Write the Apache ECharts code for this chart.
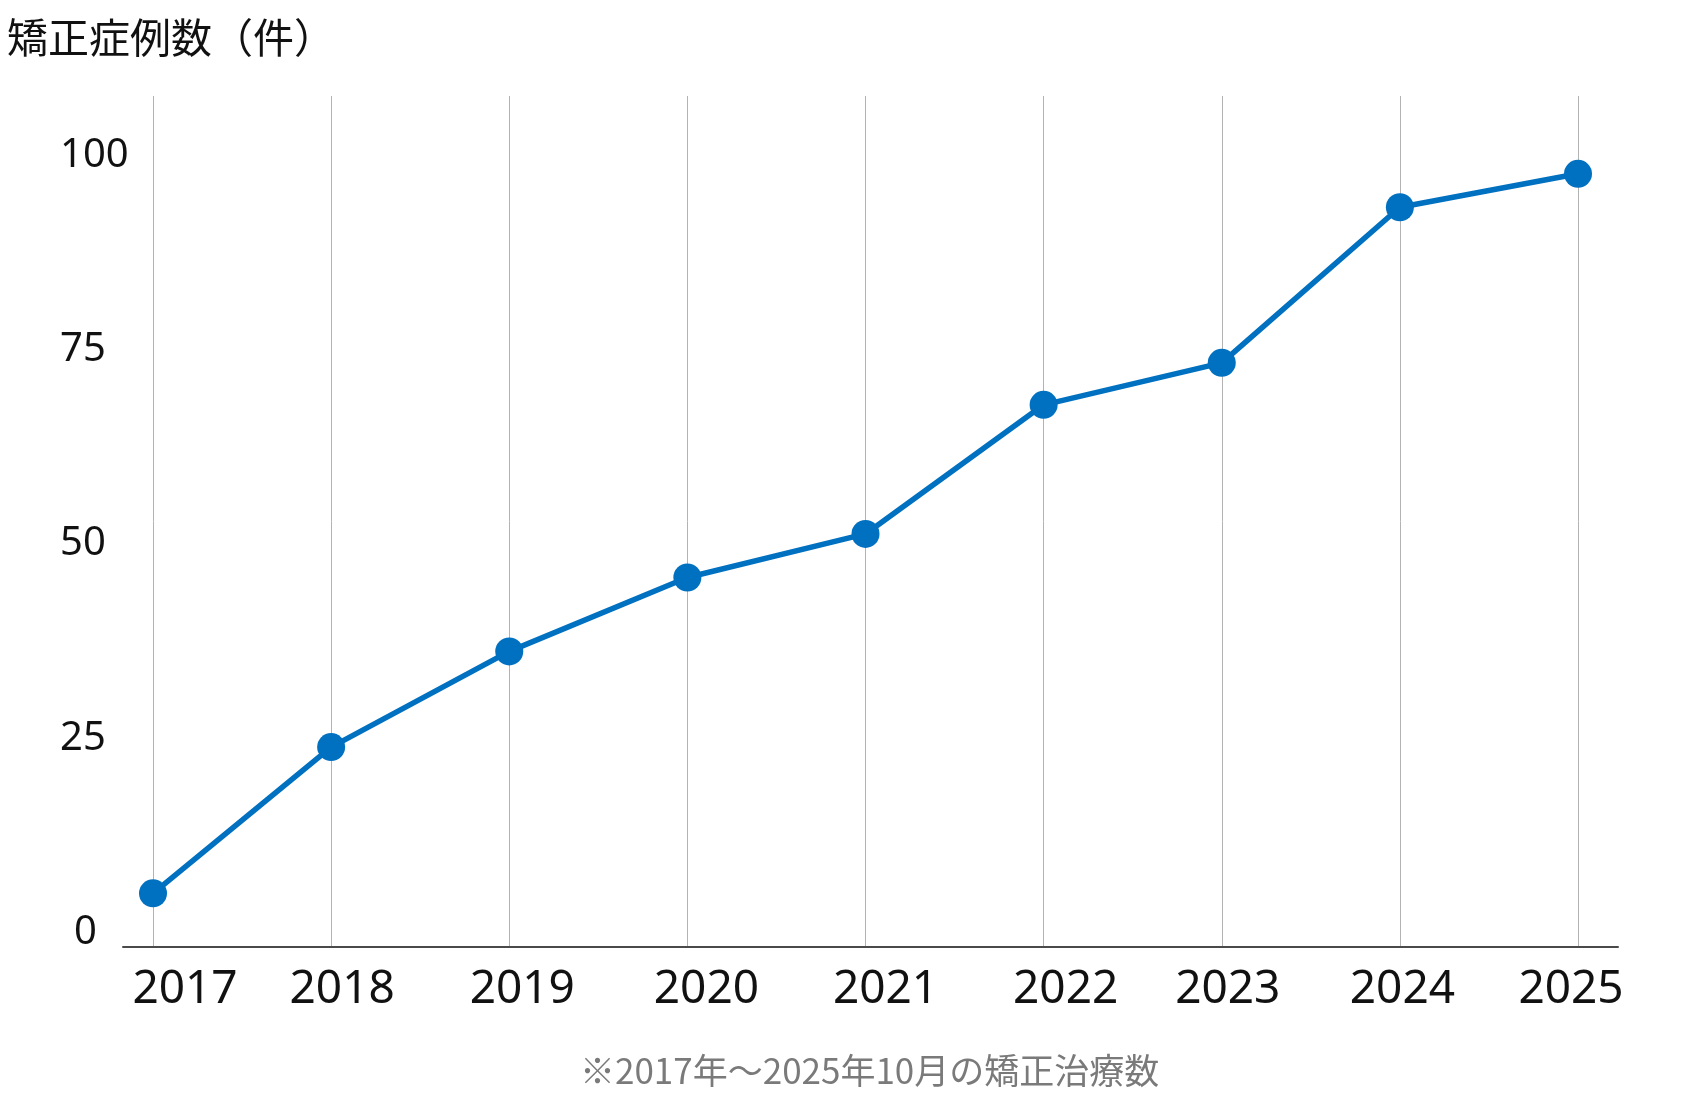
<!DOCTYPE html>
<html>
<head>
<meta charset="utf-8">
<script src="https://cdn.jsdelivr.net/npm/echarts@6/dist/echarts.min.js"></script>
<style>
html,body{margin:0;padding:0;background:#fff;}
#chart{width:1704px;height:1101px;}
</style>
</head>
<body>
<div id="chart"></div>
<script>
// ---- data ----
const years = ['2017','2018','2019','2020','2021','2022','2023','2024','2025'];
const cases = [5.1, 23.9, 36.2, 45.7, 51.3, 67.9, 73.3, 93.3, 97.6];
const yTicks = [0, 25, 50, 75, 100];
const titleText = '矯正症例数（件）';
const noteText = '※2017年～2025年10月の矯正治療数';

// ---- styles ----
const numFont = '"Noto Sans", "Noto Sans CJK JP", sans-serif';
const jpFont = '"Noto Sans CJK JP", "Noto Sans", sans-serif';
const labelPad = [[0,0,0,64],[0,0,0,22],[0,0,0,26],[0,0,0,38],[0,0,0,40],[0,0,0,44],[0,0,0,12],[0,0,0,5],[0,14,0,0]];
const rich = {};
labelPad.forEach((p, i) => { rich['s' + i] = { padding: p, fontSize: 46, fontFamily: numFont, color: '#111' }; });
const yRich = {
  n: { fontSize: 40, fontFamily: numFont, color: '#111' },
  z: { fontSize: 40, fontFamily: numFont, color: '#111', padding: [0, 0, 0, 14] }
};

const chart = echarts.init(document.getElementById('chart'), null, { renderer: 'canvas' });
chart.setOption({
  backgroundColor: '#fff',
  animation: false,
  title: [
    { text: titleText, left: 7, top: 17, padding: 0,
      textStyle: { fontSize: 41, fontWeight: 'normal', color: '#111', fontFamily: jpFont } },
    { text: noteText, left: 580, top: 1053, padding: 0,
      textStyle: { fontSize: 35, fontWeight: 'normal', color: '#7a7a7a', fontFamily: jpFont } }
  ],
  grid: [
    { left: 153, right: 126, top: 96, bottom: 154 },
    { left: 123, right: 86, top: 96, bottom: 154 }
  ],
  xAxis: [
    {
      type: 'category', gridIndex: 0, data: years, boundaryGap: false,
      axisLine: { show: false }, axisTick: { show: false },
      splitLine: { show: true, lineStyle: { color: '#b3b3b3', width: 1 } },
      axisLabel: {
        margin: 20, interval: 0,
        formatter: (v, i) => '{s' + i + '|' + v + '}',
        rich: rich
      }
    },
    {
      type: 'value', gridIndex: 1, min: 0, max: 1,
      axisLine: { show: true, onZero: false, lineStyle: { color: '#4a4a4a', width: 2 } },
      axisTick: { show: false }, axisLabel: { show: false }, splitLine: { show: false }
    }
  ],
  yAxis: [
    {
      type: 'value', gridIndex: 0, min: -1.8, max: 107.6,
      axisLine: { show: false }, axisTick: { show: false },
      splitLine: { show: false },
      axisLabel: {
        customValues: yTicks, align: 'left', margin: 93,
        formatter: (v) => (v === 0 ? '{z|' + v + '}' : '{n|' + v + '}'),
        rich: yRich
      }
    },
    {
      type: 'value', gridIndex: 1, min: 0, max: 1, show: false
    }
  ],
  series: [
    {
      type: 'line', xAxisIndex: 0, yAxisIndex: 0, data: cases,
      symbol: 'circle', symbolSize: 28,
      lineStyle: { color: '#0070c0', width: 5.5 },
      itemStyle: { color: '#0070c0' }
    }
  ]
});
</script>
</body>
</html>
